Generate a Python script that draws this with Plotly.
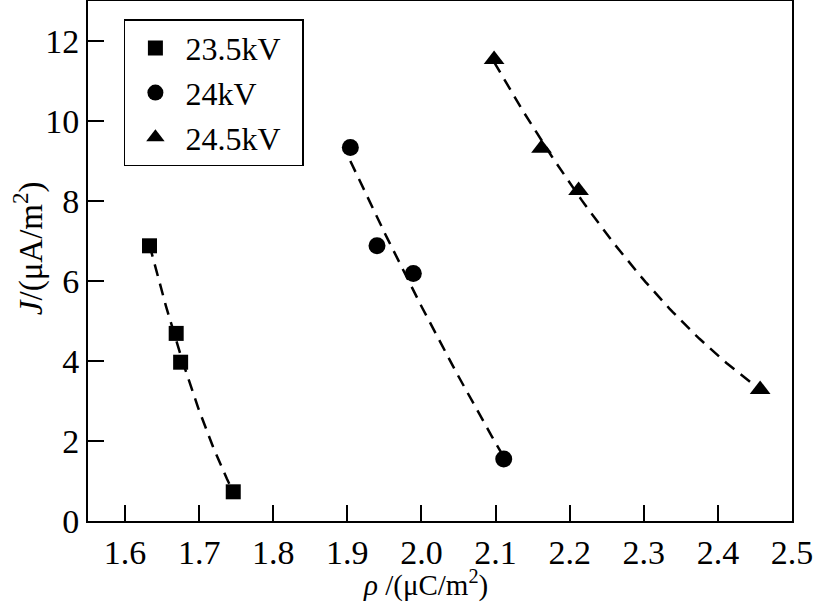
import numpy as np
import plotly.graph_objects as go

# Data
names = ["23.5kV", "24kV", "24.5kV"]
rho_235 = [1.633, 1.669, 1.675, 1.746]
j_235 = [6.88, 4.69, 3.97, 0.73]
rho_240 = [1.904, 1.940, 1.989, 2.111]
j_240 = [9.34, 6.88, 6.19, 1.55]
rho_245 = [2.098, 2.162, 2.212, 2.457]
j_245 = [11.54, 9.32, 8.26, 3.29]
symbols = ["square", "circle", "triangle-up"]
sizes = [15, 17, 18]

x_ticks = [1.6, 1.7, 1.8, 1.9, 2.0, 2.1, 2.2, 2.3, 2.4, 2.5]
x_ticklabels = ["1.6", "1.7", "1.8", "1.9", "2.0", "2.1", "2.2", "2.3", "2.4", "2.5"]
y_ticks = [0, 2, 4, 6, 8, 10, 12]

series = [(rho_235, j_235), (rho_240, j_240), (rho_245, j_245)]

FONT = "Liberation Serif"
fig = go.Figure()

# Dashed fitted curves (quadratic least-squares fit of each series)
for (xs, ys) in series:
    xs_a = np.array(xs); ys_a = np.array(ys)
    coef = np.polyfit(xs_a, ys_a, 2)
    xf = np.linspace(xs_a.min(), xs_a.max(), 80)
    yf = np.polyval(coef, xf)
    fig.add_trace(go.Scatter(x=xf, y=yf, mode="lines", showlegend=False,
                             line=dict(color="black", width=2.5, dash="12px,8px"),
                             hoverinfo="skip"))

for (xs, ys), name, sym, sz in zip(series, names, symbols, sizes):
    fig.add_trace(go.Scatter(x=xs, y=ys, mode="markers", name=name + "\u00a0\u00a0",
                             marker=dict(symbol=sym, size=sz, color="black",
                                         line=dict(width=0))))

fig.update_layout(
    width=816, height=602,
    margin=dict(l=88, r=24, t=1, b=81, autoexpand=False),
    paper_bgcolor="white", plot_bgcolor="white",
    font=dict(family=FONT, size=32, color="black"),
    legend=dict(x=0.051, y=0.965, xanchor="left", yanchor="top",
                bordercolor="black", borderwidth=1.5, bgcolor="white",
                font=dict(family=FONT, size=32, color="black"),
                itemwidth=50, tracegroupgap=0),
    xaxis=dict(range=[1.55, 2.5], tickmode="array", tickvals=x_ticks, ticktext=x_ticklabels,
               ticks="inside", ticklen=16, tickwidth=1.5, tickcolor="black",
               showline=True, linecolor="black", linewidth=2, mirror=True,
               showgrid=False, zeroline=False, automargin=False,
               tickfont=dict(family=FONT, size=34)),
    yaxis=dict(range=[0, 13], tickmode="array", tickvals=y_ticks,
               ticks="inside", ticklen=16, tickwidth=1.5, tickcolor="black",
               showline=True, linecolor="black", linewidth=2, mirror=True,
               showgrid=False, zeroline=False, automargin=False,
               tickfont=dict(family=FONT, size=34)),
    annotations=[
        dict(text="<i>ρ</i> /(μC/m<sup>2</sup>)", xref="paper", yref="paper",
             x=0.479, y=-0.121, xanchor="center", yanchor="middle", showarrow=False,
             font=dict(family=FONT, size=29)),
        dict(text="<i>J</i>/(μA/m<sup>2</sup>)", xref="paper", yref="paper",
             x=-0.085, y=0.525, xanchor="center", yanchor="middle", showarrow=False,
             textangle=-90, font=dict(family=FONT, size=33)),
    ],
)

fig.write_html("out.html", config={"displayModeBar": False},
               post_script="document.body.style.margin='0';document.body.style.overflow='hidden';")
